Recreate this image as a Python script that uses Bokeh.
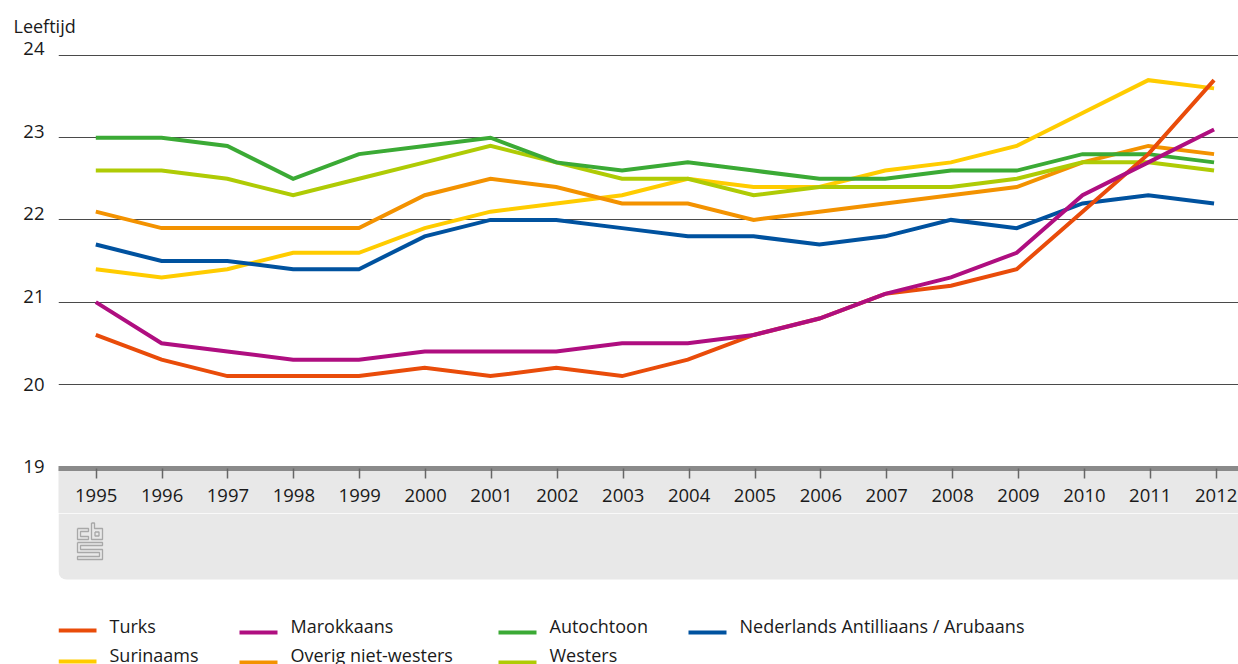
from bokeh.plotting import figure
from bokeh.layouts import column
from bokeh.models import Range1d, LinearAxis, Grid, FixedTicker, BoxAnnotation, NumeralTickFormatter, Title
from bokeh.core.properties import value
from bokeh.embed import file_html
from bokeh.resources import INLINE

years = list(range(1995, 2013))
turks = [20.6,20.3,20.1,20.1,20.1,20.2,20.1,20.2,20.1,20.3,20.6,20.8,21.1,21.2,21.4,22.1,22.8,23.7]
marokkaans = [21.0,20.5,20.4,20.3,20.3,20.4,20.4,20.4,20.5,20.5,20.6,20.8,21.1,21.3,21.6,22.3,22.7,23.1]
autochtoon = [23.0,23.0,22.9,22.5,22.8,22.9,23.0,22.7,22.6,22.7,22.6,22.5,22.5,22.6,22.6,22.8,22.8,22.7]
antilliaans = [21.7,21.5,21.5,21.4,21.4,21.8,22.0,22.0,21.9,21.8,21.8,21.7,21.8,22.0,21.9,22.2,22.3,22.2]
surinaams = [21.4,21.3,21.4,21.6,21.6,21.9,22.1,22.2,22.3,22.5,22.4,22.4,22.6,22.7,22.9,23.3,23.7,23.6]
overig = [22.1,21.9,21.9,21.9,21.9,22.3,22.5,22.4,22.2,22.2,22.0,22.1,22.2,22.3,22.4,22.7,22.9,22.8]
westers = [22.6,22.6,22.5,22.3,22.5,22.7,22.9,22.7,22.5,22.5,22.3,22.4,22.4,22.4,22.5,22.7,22.7,22.6]
grid_ticks = [20, 21, 22, 23, 24]
# the reference prints its upper value labels a few pixels above their gridlines
y_label_ticks = [19, 20, 21.067, 22.079, 23.073, 24.085]

FONT = "Open Sans"
TXT = "#1a1a1a"
W = 1238
FRAME_TOP = 41
FRAME_BOTTOM = 468
L = 58
SX, SY, X0, Y19 = 65.78, 82.2, 95.3, 466
FW, FH = W - L, FRAME_BOTTOM - FRAME_TOP
FOOT_TOP = 513

def xr(px95, scale):
    s = 1995 - (px95 - L) / scale
    return Range1d(s, s + FW / scale)

y0 = 19 - (FRAME_BOTTOM - Y19) / SY
p = figure(width=None, height=None, frame_width=FW, frame_height=FH, output_backend="svg", toolbar_location=None,
           x_range=xr(X0, SX), y_range=Range1d(y0, y0 + FH / SY),
           x_axis_location=None, y_axis_location=None,
           min_border_left=L, min_border_right=0, min_border_top=FRAME_TOP, min_border_bottom=0,
           outline_line_color=None, background_fill_color="white", border_fill_color="white")
p.grid.visible = False
p.extra_x_ranges = {"ticks": xr(95.7, 65.88)}
p.title = Title(text="Leeftijd", align="left", offset=13 - L, standoff=8, text_font=FONT, text_font_size="18px",
                text_font_style="normal", text_color=TXT)

grid = Grid(dimension=1, ticker=FixedTicker(ticks=grid_ticks), grid_line_color="#4a4a4a", grid_line_width=1,
            bounds=(1995 + (62 - X0) / SX, p.x_range.end))
p.add_layout(grid)

xax = LinearAxis(x_range_name="ticks", ticker=FixedTicker(ticks=years), formatter=NumeralTickFormatter(format="0"),
                 axis_line_color="#8A8A8A", axis_line_width=5, major_tick_line_color="#666666", major_tick_line_width=1.5,
                 major_tick_in=0, major_tick_out=10, minor_tick_line_color=None,
                 major_label_standoff=10, major_label_text_font=FONT, major_label_text_font_size="18.5px",
                 major_label_text_color=TXT,
                 axis_label=" ", axis_label_text_font_size="6px", axis_label_standoff=0)
xax.background_fill_color = "#E8E8E8"
p.add_layout(xax, "below")

yax = LinearAxis(ticker=FixedTicker(ticks=y_label_ticks), formatter=NumeralTickFormatter(format="0"),
                 axis_line_color=None, major_tick_line_color=None, minor_tick_line_color=None,
                 major_tick_in=0, major_tick_out=0,
                 major_label_standoff=14, major_label_text_font=FONT, major_label_text_font_size="18.5px",
                 major_label_text_color=TXT)
p.add_layout(yax, "left")

series = [
    ("Surinaams", surinaams, "#FFCC00"),
    ("Overig niet-westers", overig, "#F39200"),
    ("Westers", westers, "#AFCB05"),
    ("Autochtoon", autochtoon, "#3BAA35"),
    ("Nederlands Antilliaans / Arubaans", antilliaans, "#00529F"),
    ("Turks", turks, "#E94C0A"),
    ("Marokkaans", marokkaans, "#AF0E80"),
]
colors = {n: c for n, _, c in series}
for n, v, c in series:
    p.line(years, v, line_color=c, line_width=4, line_join="miter")

# footer: rest of the grey panel, logo, legend (coordinates are page pixels)
foot = figure(width=W, height=664 - FOOT_TOP, output_backend="svg", toolbar_location=None,
              x_range=Range1d(L, W), y_range=Range1d(664, FOOT_TOP),
              x_axis_location=None, y_axis_location=None,
              min_border_left=L, min_border_right=0, min_border_top=0, min_border_bottom=0,
              outline_line_color=None, background_fill_color="white", border_fill_color="white")
foot.grid.visible = False
foot.add_layout(BoxAnnotation(left=L, right=W, top=FOOT_TOP, bottom=579, fill_color="#E8E8E8", fill_alpha=1,
                              line_color=None, level="underlay", border_radius=(0, 0, 0, 8)))

legend_rows = [
    ("Turks", 58, 630, 109, 625),
    ("Marokkaans", 239, 632, 290, 625),
    ("Autochtoon", 498, 632, 549, 625),
    ("Nederlands Antilliaans / Arubaans", 688, 632, 739, 625),
    ("Surinaams", 58, 661, 109, 654),
    ("Overig niet-westers", 239, 662, 290, 654),
    ("Westers", 498, 662, 549, 654),
]
for n, sx, sy, tx, ty in legend_rows:
    foot.segment(x0=[sx], y0=[sy], x1=[sx + 38], y1=[sy], line_color=colors[n], line_width=4)
    foot.text(x=[tx], y=[ty], text=[n], text_font=value(FONT), text_font_size="18px", text_color=TXT,
              text_baseline="middle", text_align="left")

logo = [
    [(77,528),(88,528),(88,531),(80,531),(80,536),(88,536),(88,539),(77,539),(77,528)],
    [(91,522.5),(94,522.5),(94,528),(102,528),(102,539),(91,539),(91,522.5)],
    [(94.5,531.5),(98.5,531.5),(98.5,535.5),(94.5,535.5),(94.5,531.5)],
    [(77,542),(102,542),(102,545),(80,545),(80,549),(102,549),(102,559),(77,559),(77,556),(99,556),(99,552),(77,552),(77,542)],
]
foot.multi_line(xs=[[q[0] for q in poly] for poly in logo], ys=[[q[1] for q in poly] for poly in logo],
                line_color="#A8A8A8", line_width=1.3)

page = column(p, foot, spacing=0)
open("out.html", "w").write(file_html(page, INLINE))
